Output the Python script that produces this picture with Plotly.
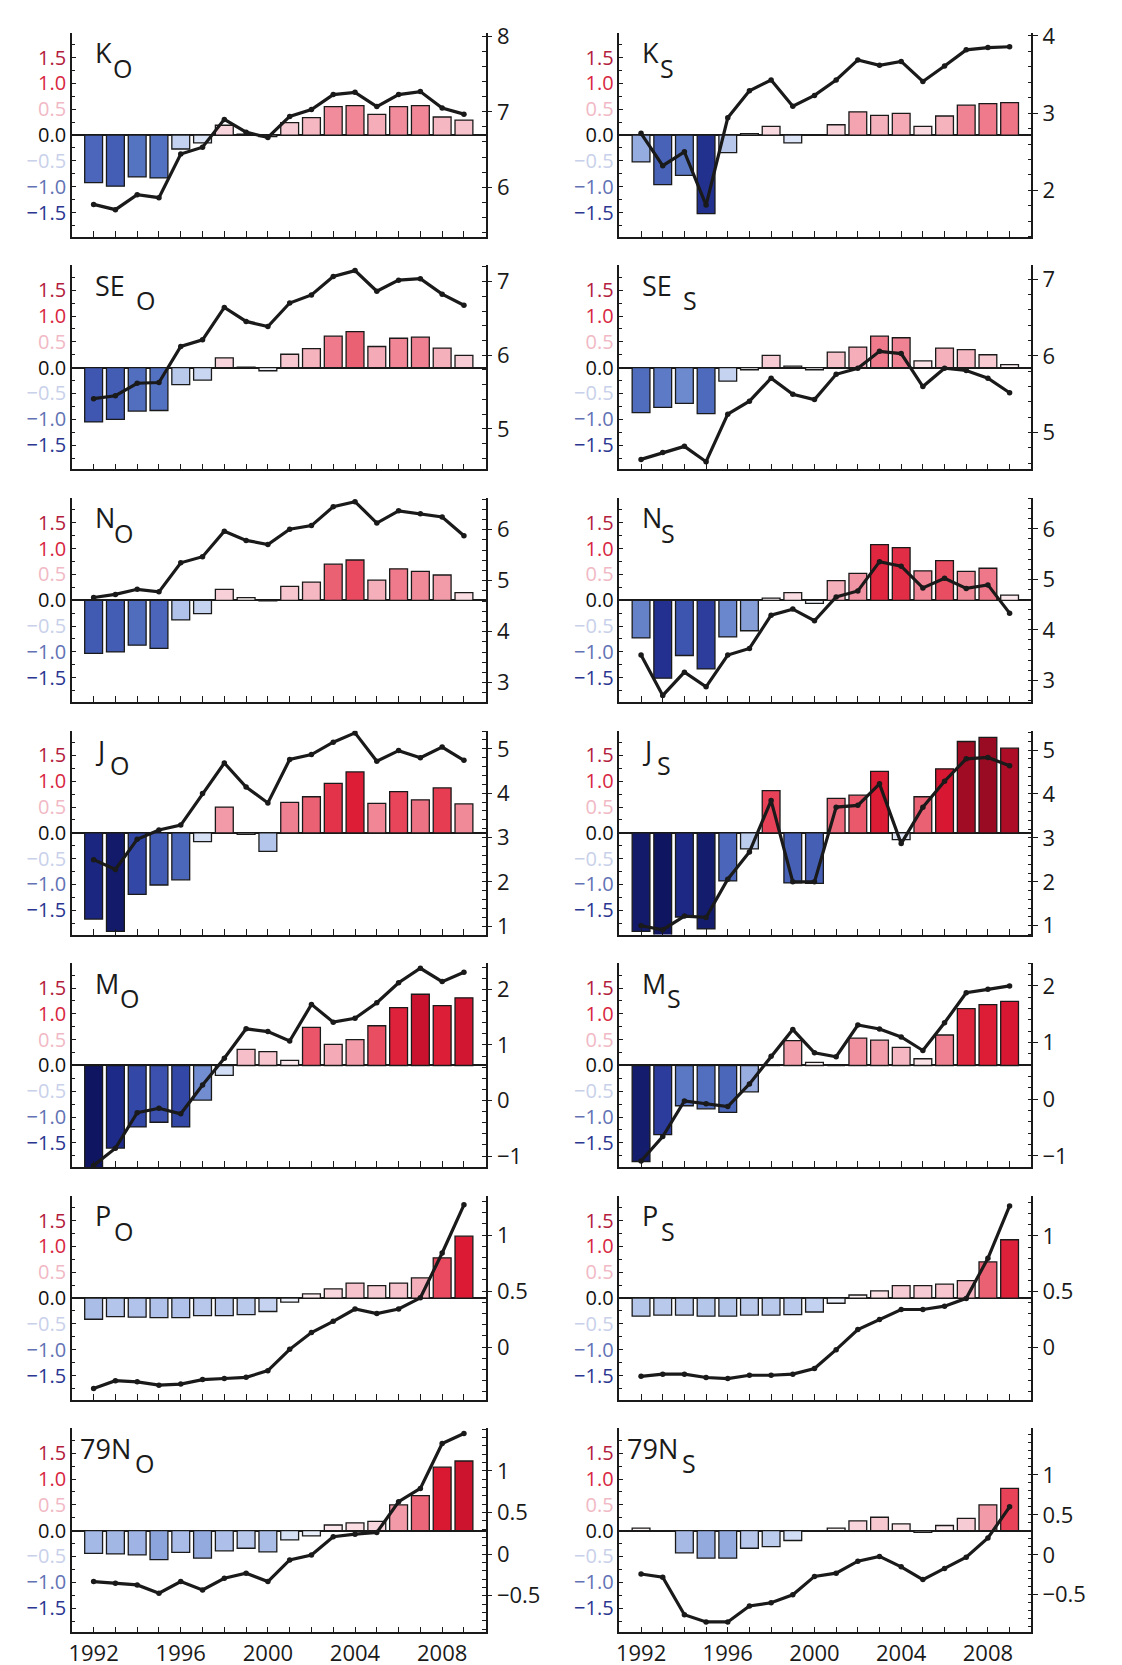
import plotly.graph_objects as go

# ---------------- data ----------------
years = list(range(1992, 2010))

ko_bars = [-0.92, -0.99, -0.81, -0.83, -0.27, -0.15, 0.19, 0.02, -0.03, 0.24, 0.34, 0.55, 0.57, 0.40, 0.55, 0.57, 0.35, 0.29]
ko_line = [5.77, 5.70, 5.90, 5.86, 6.44, 6.53, 6.90, 6.73, 6.66, 6.94, 7.03, 7.23, 7.26, 7.07, 7.23, 7.27, 7.05, 6.97]

ks_bars = [-0.52, -0.96, -0.78, -1.52, -0.34, 0.03, 0.17, -0.15, 0.0, 0.20, 0.45, 0.38, 0.42, 0.17, 0.37, 0.58, 0.61, 0.63]
ks_line = [2.74, 2.32, 2.50, 1.81, 2.94, 3.29, 3.43, 3.09, 3.23, 3.43, 3.69, 3.62, 3.67, 3.41, 3.61, 3.82, 3.85, 3.86]

seo_bars = [-1.05, -1.00, -0.84, -0.83, -0.33, -0.24, 0.19, 0.01, -0.06, 0.26, 0.37, 0.61, 0.70, 0.41, 0.57, 0.59, 0.38, 0.24]
seo_line = [5.41, 5.45, 5.62, 5.63, 6.12, 6.21, 6.65, 6.46, 6.39, 6.71, 6.82, 7.07, 7.15, 6.87, 7.02, 7.04, 6.83, 6.68]

ses_bars = [-0.87, -0.77, -0.69, -0.89, -0.26, -0.04, 0.24, 0.03, -0.04, 0.30, 0.40, 0.61, 0.58, 0.13, 0.38, 0.35, 0.25, 0.06]
ses_line = [4.65, 4.74, 4.82, 4.62, 5.24, 5.41, 5.71, 5.50, 5.43, 5.76, 5.84, 6.06, 6.03, 5.60, 5.84, 5.81, 5.71, 5.52]

no_bars = [-1.03, -1.00, -0.87, -0.93, -0.38, -0.26, 0.21, 0.05, -0.01, 0.27, 0.35, 0.70, 0.78, 0.39, 0.61, 0.56, 0.49, 0.15]
no_line = [4.67, 4.73, 4.83, 4.78, 5.35, 5.47, 5.97, 5.79, 5.71, 6.01, 6.08, 6.45, 6.55, 6.13, 6.37, 6.31, 6.25, 5.88]

ns_bars = [-0.73, -1.51, -1.07, -1.33, -0.71, -0.59, 0.04, 0.15, -0.06, 0.38, 0.52, 1.08, 1.02, 0.57, 0.77, 0.56, 0.62, 0.10]
ns_line = [3.50, 2.70, 3.16, 2.87, 3.50, 3.63, 4.29, 4.41, 4.18, 4.65, 4.77, 5.35, 5.26, 4.83, 5.02, 4.82, 4.89, 4.33]

jo_bars = [-1.67, -1.91, -1.19, -1.01, -0.91, -0.17, 0.50, -0.03, -0.36, 0.59, 0.70, 0.96, 1.18, 0.57, 0.80, 0.64, 0.87, 0.56]
jo_line = [2.50, 2.28, 2.96, 3.17, 3.28, 3.99, 4.68, 4.14, 3.78, 4.76, 4.87, 5.15, 5.36, 4.72, 4.96, 4.80, 5.04, 4.74]

js_bars = [-1.91, -2.00, -1.63, -1.86, -0.93, -0.31, 0.82, -0.97, -0.98, 0.67, 0.73, 1.19, -0.13, 0.70, 1.24, 1.77, 1.85, 1.64]
js_line = [1.00, 0.91, 1.22, 1.19, 2.06, 2.68, 3.85, 2.00, 2.00, 3.70, 3.74, 4.23, 2.87, 3.70, 4.29, 4.80, 4.83, 4.64]

mo_bars = [-2.05, -1.60, -1.19, -1.10, -1.19, -0.67, -0.19, 0.31, 0.27, 0.10, 0.74, 0.41, 0.50, 0.77, 1.12, 1.38, 1.16, 1.31]
mo_line = [-1.17, -0.86, -0.22, -0.14, -0.24, 0.28, 0.76, 1.29, 1.24, 1.07, 1.73, 1.41, 1.48, 1.76, 2.12, 2.38, 2.14, 2.31]

ms_bars = [-1.86, -1.34, -0.78, -0.84, -0.91, -0.51, 0.0, 0.48, 0.06, 0.0, 0.53, 0.49, 0.35, 0.13, 0.59, 1.10, 1.18, 1.24]
ms_line = [-1.09, -0.66, -0.03, -0.08, -0.13, 0.27, 0.76, 1.23, 0.82, 0.75, 1.31, 1.24, 1.10, 0.86, 1.35, 1.88, 1.94, 2.00]

po_bars = [-0.41, -0.36, -0.37, -0.38, -0.38, -0.34, -0.34, -0.32, -0.26, -0.08, 0.08, 0.18, 0.29, 0.24, 0.29, 0.39, 0.78, 1.20]
po_line = [-0.37, -0.30, -0.31, -0.34, -0.33, -0.29, -0.28, -0.27, -0.21, -0.02, 0.13, 0.23, 0.34, 0.30, 0.34, 0.44, 0.84, 1.27]

ps_bars = [-0.35, -0.33, -0.33, -0.35, -0.35, -0.33, -0.33, -0.32, -0.27, -0.10, 0.06, 0.14, 0.24, 0.24, 0.27, 0.34, 0.70, 1.13]
ps_line = [-0.26, -0.24, -0.24, -0.27, -0.28, -0.25, -0.25, -0.24, -0.19, -0.02, 0.16, 0.25, 0.34, 0.34, 0.37, 0.44, 0.80, 1.27]

n79o_bars = [-0.44, -0.45, -0.47, -0.56, -0.42, -0.53, -0.39, -0.34, -0.41, -0.18, -0.10, 0.11, 0.15, 0.18, 0.50, 0.68, 1.23, 1.35]
n79o_line = [-0.33, -0.35, -0.37, -0.47, -0.33, -0.43, -0.29, -0.23, -0.33, -0.07, -0.01, 0.21, 0.24, 0.26, 0.63, 0.79, 1.33, 1.45]

n79s_bars = [0.05, 0.0, -0.43, -0.53, -0.53, -0.34, -0.31, -0.19, 0.0, 0.05, 0.19, 0.26, 0.13, -0.03, 0.10, 0.24, 0.50, 0.82]
n79s_line = [-0.24, -0.28, -0.75, -0.84, -0.84, -0.64, -0.60, -0.50, -0.27, -0.23, -0.08, -0.02, -0.15, -0.31, -0.17, -0.03, 0.21, 0.60]

panel_names = ["K", "K", "SE", "SE", "N", "N", "J", "J", "M", "M", "P", "P", "79N", "79N"]
panel_subs = ["O", "S", "O", "S", "O", "S", "O", "S", "O", "S", "O", "S", "O", "S"]
bar_series = [ko_bars, ks_bars, seo_bars, ses_bars, no_bars, ns_bars, jo_bars, js_bars,
              mo_bars, ms_bars, po_bars, ps_bars, n79o_bars, n79s_bars]
line_series = [ko_line, ks_line, seo_line, ses_line, no_line, ns_line, jo_line, js_line,
               mo_line, ms_line, po_line, ps_line, n79o_line, n79s_line]

right_tickvals = [[6, 7, 8], [2, 3, 4], [5, 6, 7], [5, 6, 7], [3, 4, 5, 6], [3, 4, 5, 6],
                  [1, 2, 3, 4, 5], [1, 2, 3, 4, 5], [-1, 0, 1, 2], [-1, 0, 1, 2],
                  [0, 0.5, 1], [0, 0.5, 1], [-0.5, 0, 0.5, 1], [-0.5, 0, 0.5, 1]]

left_tickvals = [-1.5, -1.0, -0.5, 0.0, 0.5, 1.0, 1.5]
left_ticklabels = ["−1.5", "−1.0", "−0.5", "0.0", "0.5", "1.0", "1.5"]
year_labels = [1992, 1996, 2000, 2004, 2008]

# ---------------- style / layout ----------------
W, H = 1122, 1665
right_ranges = [[5.34, 8.05], [1.40, 4.04], [4.45, 7.22], [4.52, 7.18], [2.62, 6.62], [2.57, 6.61],
                [0.81, 5.41], [0.80, 5.44], [-1.20, 2.47], [-1.20, 2.40],
                [-0.47, 1.35], [-0.47, 1.36], [-0.94, 1.51], [-0.97, 1.58]]
right_minor = [0.2, 0.2, 0.2, 0.2, 0.2, 0.2, 0.2, 0.2, 0.2, 0.2, 0.1, 0.1, 0.1, 0.1]
left_label_colors = ["#2a3690", "#6272b4", "#c9d1ea", "#111111", "#f1b9c5", "#d8263f", "#b3203c"]
label_start = {"K": 21, "SE": 21, "N": 21, "J": 21, "M": 21, "P": 21, "79N": 6}
sub_offset = {"K": 18, "SE": 41, "N": 19, "J": 15, "M": 25, "P": 19, "79N": 55}

col_l = [61, 610]
col_r = [476, 1023]
row_top0, row_pitch, plot_h = 13, 235, 206

colorscale = [
    [0.0, "#0f1560"], [0.1, "#1e2a88"], [0.2, "#3246a6"], [0.3, "#5574c2"],
    [0.375, "#9ab0e2"], [0.45, "#d0dcf4"], [0.5, "#ffffff"], [0.55, "#f8d3da"],
    [0.625, "#f29aa8"], [0.7, "#e8445a"], [0.8, "#dc1a33"], [0.875, "#bc0e2a"],
    [1.0, "#8a0a20"],
]

FONT = "Open Sans"
INK = "#1a1a1a"
LEFT_TICK_SIZE = 20
TICK_SIZE = 22
LABEL_SIZE = 27

fig = go.Figure()
layout = dict(
    width=W, height=H, margin=dict(l=0, r=0, t=0, b=0),
    paper_bgcolor="white", plot_bgcolor="white",
    showlegend=False, barmode="overlay",
    font=dict(family=FONT, size=TICK_SIZE, color=INK),
)
annotations = []

left_ticktext = [f'<span style="color:{c}">{t}</span>' for t, c in zip(left_ticklabels, left_label_colors)]

for i in range(14):
    row, col = divmod(i, 2)
    xl, xr = col_l[col], col_r[col]
    top = row_top0 + row * row_pitch
    bot = top + plot_h
    n = i + 1
    xid = "x" if n == 1 else f"x{n}"
    yl_n, yr_n = 2 * i + 1, 2 * i + 2
    ylid = "y" if yl_n == 1 else f"y{yl_n}"
    yrid = f"y{yr_n}"

    fig.add_trace(go.Bar(
        x=years, y=bar_series[i], xaxis=xid, yaxis=ylid, width=0.82,
        marker=dict(color=bar_series[i], colorscale=colorscale, cmin=-2, cmax=2,
                    line=dict(color=INK, width=1.3)),
    ))
    fig.add_trace(go.Scatter(
        x=years, y=line_series[i], xaxis=xid, yaxis=yrid, mode="lines+markers",
        line=dict(color=INK, width=3.2), marker=dict(color=INK, size=5.5),
    ))

    xkey = "xaxis" if n == 1 else f"xaxis{n}"
    ylkey = "yaxis" if yl_n == 1 else f"yaxis{yl_n}"
    yrkey = f"yaxis{yr_n}"
    bottom_row = (row == 6)
    layout[xkey] = dict(
        domain=[xl / W, xr / W], anchor=ylid, range=[1991, 2010],
        tickmode="array", tickvals=years,
        ticktext=[str(y) if (y in year_labels and bottom_row) else "" for y in years],
        showticklabels=bottom_row, ticks="inside", ticklen=6, tickwidth=1.3, tickcolor=INK,
        showline=True, linecolor=INK, linewidth=1.5, showgrid=False, zeroline=False,
        tickfont=dict(size=TICK_SIZE, color=INK, family=FONT), fixedrange=True,
    )
    layout[ylkey] = dict(
        domain=[1 - bot / H, 1 - top / H], anchor=xid, range=[-1.97, 1.98],
        tickmode="array", tickvals=left_tickvals, ticktext=left_ticktext,
        ticks="inside", ticklen=4, tickwidth=1.2, tickcolor=INK,
        minor=dict(tickmode="linear", tick0=0, dtick=0.25, ticks="inside", ticklen=3, tickcolor=INK),
        showline=True, linecolor=INK, linewidth=1.5, showgrid=False,
        zeroline=True, zerolinecolor=INK, zerolinewidth=1.6,
        tickfont=dict(size=LEFT_TICK_SIZE, family=FONT), side="left", fixedrange=True,
    )
    layout[yrkey] = dict(
        overlaying=ylid, anchor=xid, side="right", range=right_ranges[i],
        tickmode="array", tickvals=right_tickvals[i],
        ticks="outside", ticklen=5, tickwidth=1.3, tickcolor=INK,
        minor=dict(tickmode="linear", tick0=right_tickvals[i][0], dtick=right_minor[i],
                   ticks="inside", ticklen=4, tickcolor=INK),
        showline=True, linecolor=INK, linewidth=1.5, showgrid=False, zeroline=False,
        tickfont=dict(size=TICK_SIZE, color=INK, family=FONT), fixedrange=True,
    )

    # panel label with same-size subscript
    lx = xl + label_start[panel_names[i]]
    annotations.append(dict(
        xref="paper", yref="paper", x=lx / W, y=1 - (top + 20) / H,
        xanchor="left", yanchor="middle", showarrow=False,
        text=panel_names[i], font=dict(size=LABEL_SIZE, color=INK, family=FONT),
    ))
    annotations.append(dict(
        xref="paper", yref="paper", x=(lx + sub_offset[panel_names[i]]) / W, y=1 - (top + 35) / H,
        xanchor="left", yanchor="middle", showarrow=False,
        text=panel_subs[i], font=dict(size=LABEL_SIZE - 2, color=INK, family=FONT),
    ))

layout["annotations"] = annotations
fig.update_layout(**layout)
fig.write_html("out.html")
